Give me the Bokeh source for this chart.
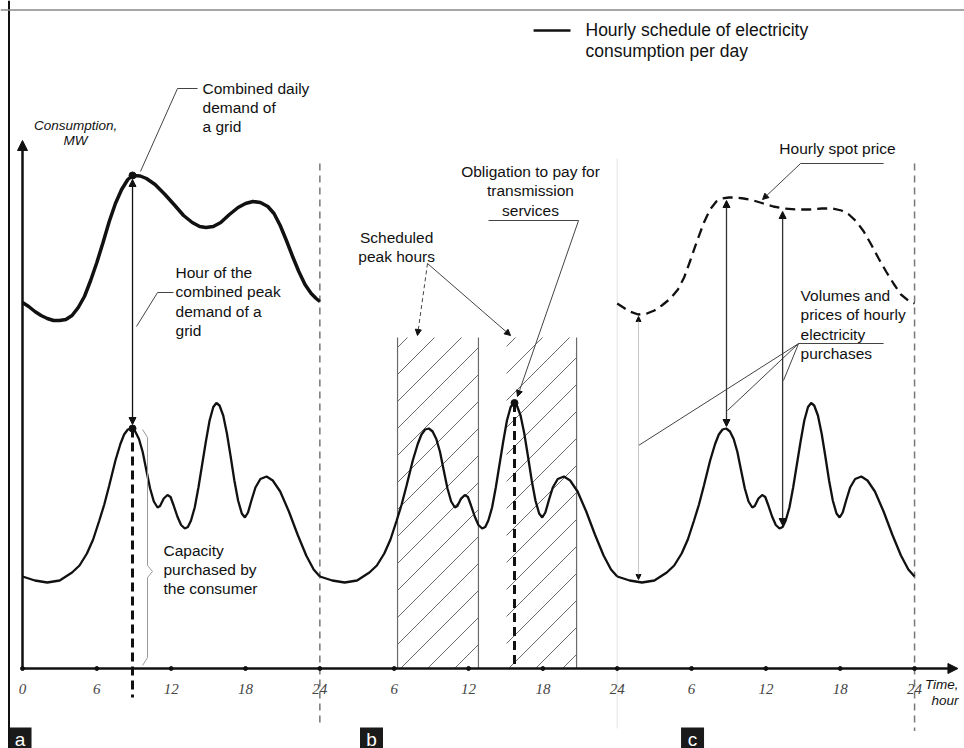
from bokeh.plotting import figure
from bokeh.models import Range1d, Arrow, NormalHead, Span
from bokeh.core.properties import value
from bokeh.embed import file_html
from bokeh.resources import INLINE

# ---------------- data ----------------
# hourly consumption schedule of the consumer (hour of day, MW - relative scale)
day_hours = [0, 1, 2, 3, 4, 4.6, 5.2, 5.7, 6.2, 6.6, 7.0, 7.5, 7.9, 8.2, 8.5, 8.8, 9.1,
             9.4, 9.7, 10.0, 10.3, 10.6, 10.9, 11.1, 11.4, 11.7, 11.95, 12.2, 12.5, 12.8,
             13.1, 13.35, 13.6, 13.9, 14.2, 14.5, 14.8, 15.1, 15.4, 15.65, 15.9, 16.2,
             16.5, 16.8, 17.1, 17.4, 17.7, 17.95, 18.2, 18.5, 18.8, 19.2, 19.7, 20.2,
             20.8, 21.5, 22.2, 22.9, 23.5]
day_load = [18.4, 17.6, 17.2, 17.6, 19.2, 20.6, 23.0, 25.8, 29.6, 32.8, 36.6, 41.6, 44.9,
            46.8, 47.8, 48.0, 47.4, 45.9, 43.3, 39.6, 36.0, 33.4, 32.2, 32.5, 34.0, 34.7,
            34.3, 32.6, 30.4, 28.7, 28.0, 28.3, 29.6, 32.2, 36.2, 40.8, 45.4, 49.6, 52.3,
            53.1, 52.6, 50.6, 47.0, 42.4, 37.6, 33.6, 31.0, 30.2, 31.2, 33.8, 36.2, 37.9,
            38.4, 37.6, 35.4, 31.4, 26.8, 22.6, 19.8]
day_offsets = [0, 24, 48]

# combined daily demand of a grid (panel a)
grid_hours = [0, 0.5, 1.0, 1.5, 2.0, 2.5, 3.0, 3.5, 4.0, 4.5, 5.0, 5.5, 6.0, 6.5, 7.0,
              7.5, 8.0, 8.5, 8.9, 9.5, 10.0, 10.7, 11.5, 12.3, 13.0, 13.7, 14.3, 14.8,
              15.4, 16.0, 16.7, 17.4, 18.0, 18.6, 19.2, 19.8, 20.3, 20.8, 21.3, 21.8,
              22.3, 22.8, 23.3, 23.7, 24]
grid_load = [73.2, 72.4, 71.4, 70.6, 70.0, 69.6, 69.6, 69.8, 70.6, 72.2, 74.4, 77.6,
             81.2, 85.2, 89.4, 93.0, 95.8, 97.8, 98.6, 98.5, 98.0, 96.8, 94.8, 92.6,
             90.6, 89.2, 88.4, 88.2, 88.4, 89.2, 90.8, 92.2, 93.0, 93.4, 93.2, 92.4,
             91.0, 88.6, 85.6, 82.4, 79.4, 76.8, 75.0, 74.0, 73.4]

# hourly spot price (panel c)
price_hours = [0.0, 0.5, 1.0, 1.7, 2.4, 3.0, 3.6, 4.3, 4.9, 5.4, 5.9, 6.4, 7.0, 7.5, 8.0,
               8.5, 9.0, 9.6, 10.2, 11.0, 11.8, 12.6, 13.4, 14.5, 15.5, 16.5, 17.4, 18.1,
               18.7, 19.3, 19.9, 20.5, 21.1, 21.7, 22.3, 22.9, 23.5, 24.0]
price_values = [73.0, 72.2, 71.4, 70.8, 71.0, 71.6, 72.6, 74.0, 75.8, 78.2, 81.6, 85.2,
                89.2, 91.8, 93.4, 94.0, 94.2, 94.2, 94.0, 93.6, 93.0, 92.4, 92.0, 91.8,
                91.8, 92.0, 92.0, 91.6, 90.8, 89.4, 87.4, 84.8, 82.0, 79.4, 77.0, 74.8,
                73.6, 73.0]

tick_hours = [0, 6, 12, 18, 24, 30, 36, 42, 48, 54, 60, 66, 72]
tick_labels = ["0", "6", "12", "18", "24", "6", "12", "18", "24", "6", "12", "18", "24"]

# scheduled peak hours (panel b), absolute hours
peak_left = [30.27, 39.07]
peak_right = [36.8, 44.72]
peak_bottom = [0, 0]
peak_top = [66.2, 66.2]

panel_names = ["a", "b", "c"]

FONT = "Liberation Sans"
INK = "#111111"

PX_PER_HOUR = 12.389
PX_PER_UNIT = 5.0

# ---------------- figure ----------------
p = figure(width=964, height=748, x_range=Range1d(-1.776, 76.03), y_range=Range1d(-16, 133.6),
           output_backend="svg", toolbar_location=None, x_axis_location=None,
           y_axis_location=None, min_border=0, outline_line_color=None)
p.grid.visible = False
p.background_fill_color = "white"

# frame
p.add_layout(Span(location=-1.09, dimension="height", line_color="#111111", line_width=2))
p.add_layout(Span(location=131.7, dimension="width", line_color="#888888", line_width=1.5))

# day boundaries
p.segment(x0=[24, 72], y0=[101, 101], x1=[24, 72], y1=[-11.8, -12.5],
          line_color="#777777", line_width=1.5, line_dash="7 5")
p.segment(x0=[48], y0=[102], x1=[48], y1=[-12], line_color="#e2e2e2", line_width=1)

# hatched scheduled peak hours (45 degree hatching drawn from the quads)
slope = PX_PER_HOUR / PX_PER_UNIT
step = 27 / PX_PER_UNIT
hx0, hy0, hx1, hy1 = [], [], [], []
for L, R, B, T in zip(peak_left, peak_right, peak_bottom, peak_top):
    cmin = B - slope * R
    cmax = T - slope * L
    k = int(cmin // step)
    while k * step <= cmax:
        c = k * step
        h_in = max(L, (B - c) / slope)
        h_out = min(R, (T - c) / slope)
        if h_out - h_in > 0.05:
            hx0.append(h_in); hy0.append(c + slope * h_in)
            hx1.append(h_out); hy1.append(c + slope * h_out)
        k += 1
p.segment(x0=hx0, y0=hy0, x1=hx1, y1=hy1, line_color="#6a6a6a", line_width=1)
p.segment(x0=[peak_left[0], peak_right[0], peak_right[1]], y0=[0, 0, 0],
          x1=[peak_left[0], peak_right[0], peak_right[1]], y1=[peak_top[0]] * 3,
          line_color="#6a6a6a", line_width=1.2)

# axes
p.add_layout(Arrow(x_start=0, y_start=0, x_end=75.5, y_end=0, line_color=INK, line_width=2.5,
                   end=NormalHead(size=10, fill_color=INK, line_color=INK)))
p.add_layout(Arrow(x_start=0, y_start=0, x_end=0, y_end=105.6, line_color=INK, line_width=2.5,
                   end=NormalHead(size=10, fill_color=INK, line_color=INK)))
p.scatter(tick_hours, [0] * len(tick_hours), size=4, color=INK)
p.text(tick_hours, [-4.0] * len(tick_hours), text=tick_labels, text_align="center",
       text_baseline="middle", text_font=value("Liberation Sans Narrow"),
       text_font_style="italic", text_font_size="15px", text_color="#444444")

# consumption curves (3 days)
for off in day_offsets:
    xs = [h + off for h in day_hours] + [24 + off]
    ys = day_load + [day_load[0]]
    p.line(xs, ys, line_color=INK, line_width=2.3)

# combined grid demand
p.line(grid_hours, grid_load, line_color=INK, line_width=3.5)

# spot price
p.line([h + 48 for h in price_hours], price_values, line_color=INK, line_width=2.3,
       line_dash="10 6")

# thick dashed markers of peak hours
p.segment(x0=[8.88, 39.71], y0=[48.0, 53.1], x1=[8.88, 39.71], y1=[-5.8, 0],
          line_color=INK, line_width=3, line_dash="9 5")
p.scatter([8.88, 8.88, 39.71], [98.6, 48.0, 53.1], size=7, color=INK)


def arrow(x0, y0, x1, y1, color=INK, width=1.3, both=False, size=7, dash="solid"):
    head = NormalHead(size=size, fill_color=INK, line_color=INK)
    start = NormalHead(size=size, fill_color=INK, line_color=INK) if both else None
    p.add_layout(Arrow(x_start=x0, y_start=y0, x_end=x1, y_end=y1, line_color=color,
                       line_width=width, end=head, start=start, line_dash=dash))


# vertical arrows
arrow(8.88, 97.8, 8.88, 48.8, both=True)
arrow(56.82, 93.6, 56.82, 48.4, both=True, color="#333333")
arrow(61.35, 91.4, 61.35, 28.6, both=True, color="#333333")
arrow(49.72, 70.4, 49.72, 17.8, both=True, color="#c8c8c8", width=1, size=5)

# leader lines
LEAD = "#444444"
p.line([14.13, 12.51, 9.52], [116, 116, 99.4], line_color=LEAD, line_width=1)
p.line([12.19, 10.9, 9.2], [75.2, 75.2, 68.4], line_color=LEAD, line_width=1)
# brace
p.line([9.69, 10.09, 10.09, 10.49, 10.09, 10.09, 9.69],
       [47.8, 46.2, 20.6, 19.4, 18.2, 2.2, 0.6], line_color="#999999", line_width=1)
arrow(32.69, 81, 31.88, 66.6, color=LEAD, width=1, size=6, dash="4 3")
arrow(32.69, 81, 39.39, 66.6, color=LEAD, width=1, size=6)
p.line([37.61, 44.88], [89.6, 89.6], line_color=LEAD, line_width=1)
arrow(44.88, 89.6, 39.95, 54.4, color=LEAD, width=1, size=6)
p.line([62.8, 69.5], [101, 101], line_color=LEAD, line_width=1)
arrow(62.8, 101, 59.73, 93.8, color=LEAD, width=1, size=6)
p.line([62.64, 69.5], [65, 65], line_color=LEAD, line_width=1)
p.segment(x0=[62.64] * 3, y0=[65] * 3, x1=[49.72, 56.9, 61.42], y1=[44.6, 51.6, 57.6],
          line_color=LEAD, line_width=1)

# legend
p.line([41.25, 44.23], [127.6, 127.6], line_color=INK, line_width=2.5)
p.text([45.44], [125.7], text=["Hourly schedule of electricity\nconsumption per day"],
       text_align="left", text_baseline="middle", text_font=value(FONT),
       text_font_size="17.5px", text_color=INK, text_line_height=1.05)

# annotation texts
ann_x = [14.53, 12.35, 11.38, 30.2, 41.0, 65.78, 62.8]
ann_y = [112.2, 73.4, 19.8, 84.3, 95.5, 104, 68.8]
ann_t = ["Combined daily\ndemand of\na grid",
         "Hour of the\ncombined peak\ndemand of a\ngrid",
         "Capacity\npurchased by\nthe consumer",
         "Scheduled\npeak hours",
         "Obligation to pay for\ntransmission\nservices",
         "Hourly spot price",
         "Volumes and\nprices of hourly\nelectricity\npurchases"]
ann_align = ["left", "left", "left", "center", "center", "center", "left"]
for x, y, t, a in zip(ann_x, ann_y, ann_t, ann_align):
    p.text([x], [y], text=[t], text_align=a, text_baseline="middle", text_font=value(FONT),
           text_font_size="15.5px", text_color=INK, text_line_height=1.12)

p.text([4.28], [107.2], text=["Consumption,\nMW"], text_align="center",
       text_baseline="middle", text_font=value(FONT), text_font_style="italic",
       text_font_size="13.5px", text_color=INK, text_line_height=1.0)
p.text([75.55], [-4.8], text=["Time,\nhour"], text_align="right", text_baseline="middle",
       text_font=value(FONT), text_font_style="italic", text_font_size="13.5px",
       text_color=INK, text_line_height=1.05)

# panel labels
panel_x = [-0.2, 28.17, 54.08]
p.rect(panel_x, [-13.9] * 3, width=23, height=21, width_units="screen",
       height_units="screen", fill_color="#1a1a1a", line_color=None)
p.text(panel_x, [-14.1] * 3, text=panel_names, text_align="center", text_baseline="middle",
       text_font=value(FONT), text_font_size="19px", text_color="white")

open("out.html", "w").write(file_html(p, INLINE))
